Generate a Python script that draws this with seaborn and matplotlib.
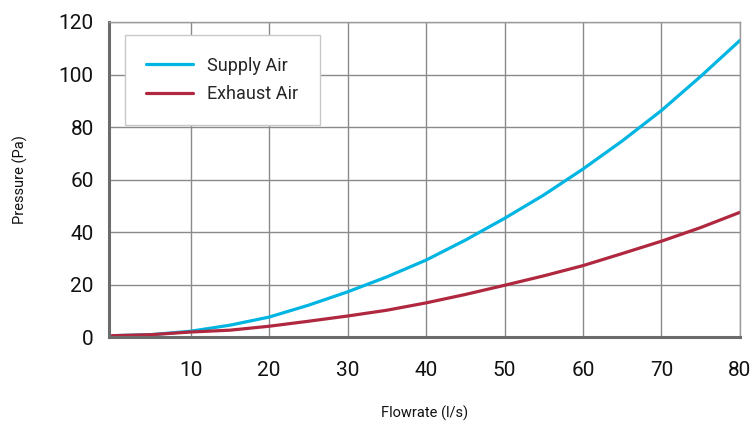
"""Pressure vs flowrate curves for supply and exhaust air."""
import matplotlib
matplotlib.use("Agg")
import matplotlib.pyplot as plt
import seaborn as sns
import pandas as pd

# Values
flowrate = [0, 5, 10, 15, 20, 25, 30, 35, 40, 45, 50, 55, 60, 65, 70, 75, 80]
supply_air = [0.5, 0.9, 2.2, 4.5, 7.6, 12.1, 17.2, 22.9, 29.3, 36.9, 45.2,
              54.1, 64.0, 74.7, 86.3, 99.3, 113.0]
exhaust_air = [0.5, 0.9, 1.9, 2.6, 4.1, 6.0, 8.0, 10.2, 13.0, 16.2, 19.7,
               23.3, 27.2, 31.8, 36.5, 41.7, 47.5]
x_ticks = [10, 20, 30, 40, 50, 60, 70, 80]
y_ticks = [0, 20, 40, 60, 80, 100, 120]

sns.set_style("white")
plt.rcParams['font.family'] = ['Roboto', 'DejaVu Sans']

df = pd.DataFrame({
    'Flowrate': flowrate * 2,
    'Pressure': supply_air + exhaust_air,
    'Series': ['Supply Air'] * len(flowrate) + ['Exhaust Air'] * len(flowrate),
})

fig = plt.figure(figsize=(7.52, 4.28), dpi=100, facecolor='white')
ax = fig.add_axes([0.145, 0.2126, 0.839, 0.736])

sns.lineplot(data=df, x='Flowrate', y='Pressure', hue='Series',
             palette={'Supply Air': '#00b5e2', 'Exhaust Air': '#b0283f'},
             linewidth=2.3, ax=ax)

ax.set_xlim(-0.4, 80)
ax.set_ylim(0, 120)
ax.set_xticks(x_ticks)
ax.set_yticks(y_ticks)
ax.grid(True, color='#8a8a8a', linewidth=1)
ax.set_axisbelow(True)
ax.tick_params(axis='x', length=0, pad=17, labelsize=15, colors='#111111')
ax.tick_params(axis='y', length=0, pad=11, labelsize=15, colors='#111111')

for side in ['left', 'bottom']:
    ax.spines[side].set_color('#6b6b6b')
    ax.spines[side].set_linewidth(2.2)
for side in ['top', 'right']:
    ax.spines[side].set_color('#9a9a9a')
    ax.spines[side].set_linewidth(1)

ax.set_xlabel('Flowrate (l/s)', fontsize=10.5, color='#111111')
ax.set_ylabel('Pressure (Pa)', fontsize=10.5, color='#111111')
ax.xaxis.set_label_coords(0.5, -0.241)
ax.xaxis.label.set_va('center')
ax.yaxis.set_label_coords(-0.141, 0.5)
ax.yaxis.label.set_va('center')

leg = ax.legend(loc='upper left', bbox_to_anchor=(0.025, 0.959), borderaxespad=0,
                fontsize=13, frameon=True, fancybox=False, framealpha=1,
                edgecolor='#c8c8c8', handlelength=2.6, handletextpad=0.75,
                labelspacing=0.6, borderpad=1.2, title=None)
leg.get_frame().set_linewidth(1)

plt.savefig('out.png', dpi=100, facecolor='white')
plt.close()
